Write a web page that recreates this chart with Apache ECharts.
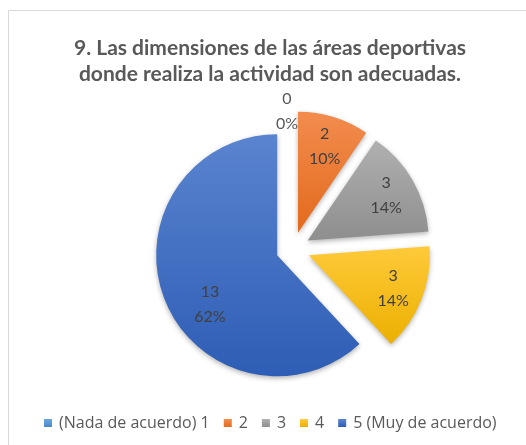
<!DOCTYPE html>
<html>
<head>
<meta charset="utf-8">
<script src="https://cdn.jsdelivr.net/npm/echarts@6/dist/echarts.min.js"></script>
<style>
  html, body { margin: 0; padding: 0; background: #fff; }
  #main { width: 526px; height: 445px; }
</style>
</head>
<body>
<div id="main"></div>
<script>
// datos de la gráfica
const titleText = '9. Las dimensiones de las áreas deportivas\ndonde realiza la actividad son adecuadas.';
const categories = ['(Nada de acuerdo) 1', '2', '3', '4', '5 (Muy de acuerdo)'];
const values = [0, 2, 3, 3, 13];
const colorsTop = ['#6AA5DA', '#F28C4E', '#B0B0B0', '#FFCA3A', '#5A84CF'];
const colorsBottom = ['#4C8ACB', '#E36A1C', '#8E8E8E', '#EBB000', '#2E5DB5'];
const legendColors = ['#5B9BD5', '#ED7D31', '#A5A5A5', '#FFC000', '#4472C4'];

let myChart = echarts.init(document.getElementById('main'));

const sliceData = categories.map((name, i) => ({
  name: name,
  value: values[i],
  selected: true,
  itemStyle: {
    color: new echarts.graphic.LinearGradient(0, 0, 0, 1, [
      { offset: 0, color: colorsTop[i] },
      { offset: 1, color: colorsBottom[i] }
    ])
  }
}));

const maxValue = Math.max(...values);

// serie transparente solo para las etiquetas (más hacia el borde, como Excel)
const labelData = categories.map((name, i) => {
  let item = { name: name, value: values[i], selected: true };
  if (values[i] === 0) {
    item.label = {
      position: 'outside',
      padding: [0, -12, 0, 0],
      formatter: p => '{z|' + p.value + '}\n{z|' + p.percent + '%}',
      rich: { z: { width: 26, align: 'center', color: '#595959', fontFamily: 'Lato', fontSize: 16, lineHeight: 25 } }
    };
    item.labelLine = { show: false, length: 0, length2: 0 };
  }
  if (values[i] === maxValue) {
    // Excel coloca la etiqueta del sector grande más abajo
    item.label = {
      padding: [0, 0, 0, 34],
      formatter: '{s| }\n{c}\n{d}%',
      rich: { s: { lineHeight: 32, fontSize: 4 } }
    };
  }
  return item;
});

myChart.setOption({
  color: legendColors,
  graphic: [{
    type: 'rect',
    shape: { x: 8.5, y: 10.5, width: 540, height: 460 },
    style: { fill: 'none', stroke: '#d9d9d9', lineWidth: 1 },
    silent: true
  }],
  title: {
    text: titleText,
    left: 265,
    top: 30,
    textAlign: 'center',
    textStyle: {
      fontFamily: 'Lato',
      fontSize: 21,
      fontWeight: 'bold',
      color: '#595959',
      lineHeight: 26
    }
  },
  legend: {
    data: categories,
    left: 39,
    top: 410,
    icon: 'rect',
    itemWidth: 8,
    itemHeight: 8,
    itemGap: 14,
    selectedMode: false,
    textStyle: { fontFamily: 'Open Sans', fontSize: 16, color: '#595959', padding: [0, 0, 0, 2] }
  },
  series: [
    {
      name: 'pie',
      type: 'pie',
      center: [293, 249],
      radius: 121,
      startAngle: 90,
      selectedMode: 'multiple',
      selectedOffset: 17,
      percentPrecision: 0,
      label: { show: false },
      labelLine: { show: false },
      emphasis: { scale: false },
      itemStyle: {
        shadowBlur: 5,
        shadowOffsetY: 2,
        shadowColor: 'rgba(0, 0, 0, 0.3)'
      },
      data: sliceData
    },
    {
      name: 'labels',
      type: 'pie',
      z: 5,
      center: [293, 249],
      radius: [54, 121],
      startAngle: 90,
      selectedMode: 'multiple',
      selectedOffset: 17,
      percentPrecision: 0,
      silent: true,
      emphasis: { disabled: true },
      itemStyle: { color: 'transparent' },
      label: {
        position: 'inside',
        formatter: '{c}\n{d}%',
        fontFamily: 'Lato',
        fontSize: 16,
        lineHeight: 25,
        color: '#404040'
      },
      labelLine: { show: false },
      data: labelData
    }
  ]
});
</script>
</body>
</html>
